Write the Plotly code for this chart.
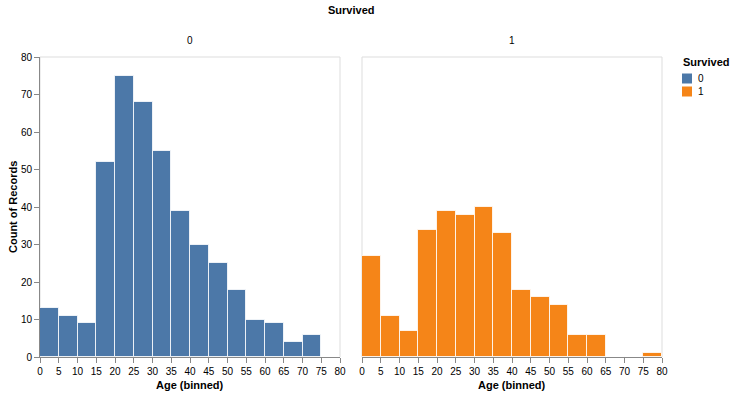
import plotly.graph_objects as go

bin_starts = [0, 5, 10, 15, 20, 25, 30, 35, 40, 45, 50, 55, 60, 65, 70, 75]
bin_width = 5
died_counts = [13, 11, 9, 52, 75, 68, 55, 39, 30, 25, 18, 10, 9, 4, 6, 0]
survived_counts = [27, 11, 7, 34, 39, 38, 40, 33, 18, 16, 14, 6, 6, 0, 0, 1]
facet_labels = ["0", "1"]
colors = ["#4c78a8", "#f58518"]
y_ticks = [0, 10, 20, 30, 40, 50, 60, 70, 80]
x_ticks = list(range(0, 85, 5))

FONT = "Liberation Sans, Arial, Helvetica, sans-serif"
W, H = 733, 395
ML, MR, MT, MB = 40, 71, 57, 38
pw = W - ML - MR
ph = H - MT - MB
d1 = 300 / pw
d2 = 322 / pw


def px_x(px):
    return (px - ML) / pw


def px_y(py):
    return (H - MB - py) / ph


fig = go.Figure()
for i, (counts, lab) in enumerate(zip([died_counts, survived_counts], facet_labels)):
    fig.add_trace(go.Bar(
        x=bin_starts, y=counts, width=bin_width, offset=0,
        marker=dict(color=colors[i], line=dict(color="rgba(255,255,255,0.8)", width=1)),
        name=lab, xaxis="x" if i == 0 else "x2", yaxis="y" if i == 0 else "y2",
        showlegend=False,
    ))

axis_common = dict(
    showgrid=False, zeroline=False, ticks="outside", ticklen=5, tickcolor="#888",
    tickfont=dict(size=10, color="#000", family=FONT), automargin=False,
)
xa = dict(axis_common, range=[0, 80], tickvals=x_ticks, showline=True, linecolor="#888")
fig.update_layout(
    width=W, height=H, margin=dict(l=ML, r=MR, t=MT, b=MB),
    plot_bgcolor="white", paper_bgcolor="white",
    font=dict(family=FONT, color="#000"),
    bargap=0,
    xaxis=dict(xa, domain=[0, d1], anchor="y"),
    xaxis2=dict(xa, domain=[d2, 1], anchor="y2"),
    yaxis=dict(axis_common, range=[0, 80], tickvals=y_ticks, showline=True, linecolor="#888",
               anchor="x"),
    yaxis2=dict(range=[0, 80], showgrid=False, zeroline=False, showticklabels=False,
                anchor="x2", automargin=False),
    showlegend=False,
)

# panel frames
for xr in ["x domain", "x2 domain"]:
    yr = "y domain" if xr == "x domain" else "y2 domain"
    fig.add_shape(type="rect", xref=xr, yref=yr, x0=0, x1=1, y0=0, y1=1,
                  line=dict(color="#ddd", width=1), layer="below")

title_font = dict(size=11, family=FONT, color="#000")
# facet headers
for xr, lab in [("x domain", facet_labels[0]), ("x2 domain", facet_labels[1])]:
    fig.add_annotation(xref=xr, yref="paper", x=0.5, y=px_y(40), text=lab,
                       showarrow=False, font=dict(size=10, family=FONT, color="#000"),
                       yanchor="middle")
    fig.add_annotation(xref=xr, yref="paper", x=0.5, y=px_y(385), text="<b>Age (binned)</b>",
                       showarrow=False, font=title_font, yanchor="middle")
fig.add_annotation(xref="paper", yref="paper", x=px_x(351), y=px_y(10),
                   text="<b>Survived</b>", showarrow=False, font=title_font, yanchor="middle")
fig.add_annotation(xref="paper", yref="paper", x=px_x(13), y=0.5, textangle=-90,
                   text="<b>Count of Records</b>", showarrow=False, font=title_font,
                   xanchor="center", yanchor="middle")

# legend
fig.add_annotation(xref="paper", yref="paper", x=px_x(681), y=px_y(62),
                   text="<b>Survived</b>", showarrow=False, font=title_font,
                   xanchor="left", yanchor="middle")
for i, lab in enumerate(facet_labels):
    cy = 78.5 + 13 * i
    fig.add_shape(type="rect", xref="paper", yref="paper",
                  x0=px_x(682), x1=px_x(692), y0=px_y(cy - 5), y1=px_y(cy + 5),
                  fillcolor=colors[i], line=dict(width=0))
    fig.add_annotation(xref="paper", yref="paper", x=px_x(696), y=px_y(cy),
                       text=lab, showarrow=False, font=dict(size=10, family=FONT, color="#000"),
                       xanchor="left", yanchor="middle")

fig.write_html("out.html", config={"displayModeBar": False},
               post_script="document.body.style.margin='0';document.body.style.overflow='hidden';")
